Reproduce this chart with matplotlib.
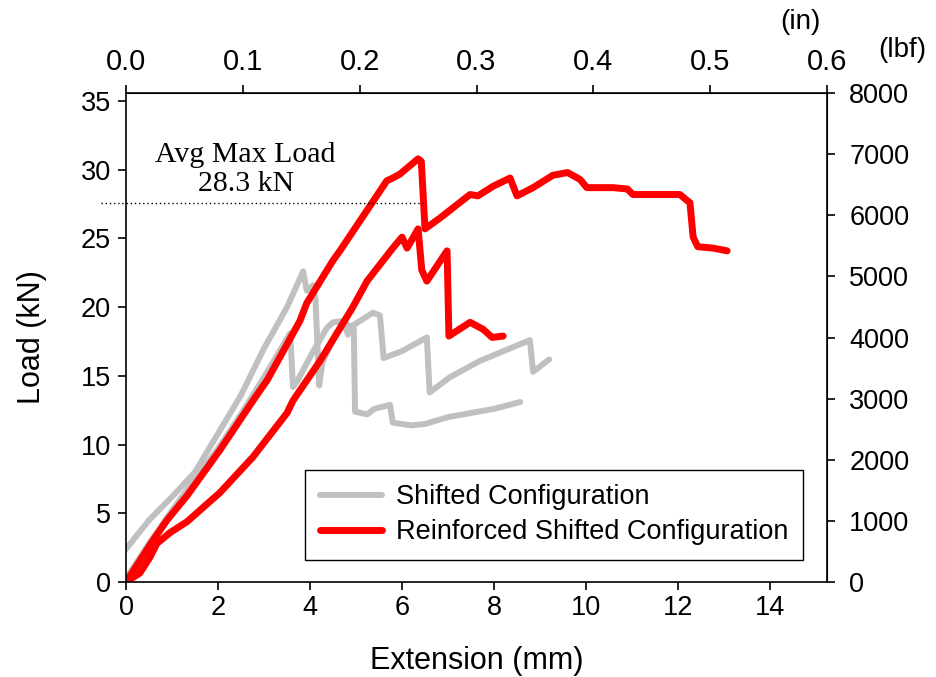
import matplotlib
matplotlib.use("Agg")
import matplotlib.pyplot as plt
import matplotlib.ticker as ticker
import numpy as np

# shifted configuration specimens (extension mm, load kN)
gray_a_x = [0.0, 0.5, 1.0, 1.5, 2.0, 2.5, 3.0, 3.5, 3.85, 3.93, 4.07, 4.12, 4.2, 4.27, 4.57, 4.78, 4.88, 4.95, 4.98,
            5.24, 5.4, 5.74, 5.8, 6.2, 6.5, 7.0, 7.5, 8.0, 8.57]
gray_a_y = [2.4, 4.5, 6.2, 8.0, 10.8, 13.6, 17.0, 20.0, 22.6, 21.2, 21.6, 20.5, 14.3, 16.0, 18.1, 18.8, 18.6, 18.7, 12.4,
            12.2, 12.6, 12.9, 11.6, 11.4, 11.5, 12.0, 12.3, 12.6, 13.1]
gray_b_x = [0.05, 0.5, 1.0, 1.5, 2.0, 2.5, 3.0, 3.57, 3.63, 3.72, 4.07, 4.37, 4.5, 4.75, 4.82, 4.9, 5.37, 5.52, 5.6,
            6.0, 6.54, 6.6, 7.04, 7.7, 8.78, 8.85, 9.2]
gray_b_y = [0.5, 2.8, 5.2, 7.5, 9.7, 12.2, 14.9, 18.1, 14.2, 14.6, 16.8, 18.5, 18.9, 19.0, 18.0, 18.6, 19.6, 19.4, 16.3,
            16.8, 17.8, 13.8, 14.9, 16.1, 17.6, 15.3, 16.2]

# reinforced shifted configuration specimens
red_a_x = [0.0, 0.59, 0.89, 1.33, 2.04, 2.76, 3.07, 3.78, 3.93, 4.5, 4.65, 5.09, 5.67, 5.8, 5.96, 6.35, 6.42, 6.5,
           6.83, 7.48, 7.65, 7.98, 8.35, 8.5, 8.85, 9.28, 9.6, 9.87, 10.02, 10.59, 10.9, 11.02, 11.46, 12.04, 12.26,
           12.33, 12.43, 12.76, 13.07]
red_a_y = [0.0, 3.05, 4.5, 6.3, 9.6, 13.2, 14.7, 19.0, 20.3, 23.4, 24.1, 26.3, 29.2, 29.4, 29.7, 30.8, 30.6, 25.7,
           26.5, 28.2, 28.1, 28.8, 29.4, 28.1, 28.7, 29.6, 29.8, 29.3, 28.7, 28.7, 28.6, 28.2, 28.2, 28.2, 27.6,
           25.1, 24.4, 24.3, 24.1]
red_b_x = [0.0, 0.3, 0.52, 0.67, 0.96, 1.33, 2.04, 2.76, 3.5, 3.63, 4.22, 4.93, 5.24, 5.8, 6.0, 6.11, 6.35, 6.43,
           6.54, 6.98, 7.02, 7.48, 7.76, 7.96, 8.2]
red_b_y = [0.0, 0.65, 1.8, 2.8, 3.6, 4.4, 6.5, 9.1, 12.3, 13.2, 16.1, 20.0, 21.9, 24.3, 25.1, 24.3, 25.7, 22.7,
           21.9, 24.1, 17.9, 18.9, 18.4, 17.8, 17.9]

avg_max_load = 27.6

MM_PER_IN = 25.4
KN_PER_LBF = 0.0044482216

plt.rcParams['font.family'] = ['Liberation Sans', 'DejaVu Sans']
plt.rcParams['font.size'] = 19

fig = plt.figure(figsize=(9.37, 6.77), dpi=100)
ax = fig.add_axes([0.1345, 0.1403, 0.7481, 0.7223])

gray = '#c0c0c0'
red = '#ff0000'
ax.plot(gray_a_x, gray_a_y, color=gray, lw=4.3, solid_joinstyle='round', solid_capstyle='round')
ax.plot(gray_b_x, gray_b_y, color=gray, lw=4.3, solid_joinstyle='round', solid_capstyle='round',
        label='Shifted Configuration')
ax.plot(red_b_x, red_b_y, color=red, lw=5, solid_joinstyle='round', solid_capstyle='round')
ax.plot(red_a_x, red_a_y, color=red, lw=5, solid_joinstyle='round', solid_capstyle='round',
        label='Reinforced Shifted Configuration')

ax.plot([-0.55, 6.45], [avg_max_load, avg_max_load], color='black', lw=1, ls=(0, (1, 2)), clip_on=False)
ax.text(2.6, 30.0, 'Avg Max Load\n28.3 kN', family='Liberation Serif', fontsize=21.5,
        ha='center', va='center', linespacing=1.15)

ax.set_xlim(0, 0.6 * MM_PER_IN)
ax.set_ylim(0, 8000 * KN_PER_LBF)
ax.xaxis.set_major_locator(ticker.MultipleLocator(2))
ax.yaxis.set_major_locator(ticker.MultipleLocator(5))
ax.set_xlabel('Extension (mm)', fontsize=22, labelpad=18)
ax.set_ylabel('Load (kN)', fontsize=22, labelpad=24)
ax.tick_params(direction='out', length=6, width=1.2, labelsize=19.5)
ax.tick_params(axis='y', pad=5)
for s in ax.spines.values():
    s.set_linewidth(1.2)

top = ax.secondary_xaxis('top', functions=(lambda v: v / MM_PER_IN, lambda v: v * MM_PER_IN))
top.set_xticks([0.0, 0.1, 0.2, 0.3, 0.4, 0.5, 0.6])
top.xaxis.set_major_formatter(ticker.FormatStrFormatter('%.1f'))
top.tick_params(direction='out', length=6, width=1.2, labelsize=21, pad=6)
right = ax.secondary_yaxis('right', functions=(lambda v: v / KN_PER_LBF, lambda v: v * KN_PER_LBF))
right.set_yticks(list(range(0, 8001, 1000)))
right.tick_params(direction='out', length=6, width=1.2, labelsize=19.5, pad=10)

fig.text(0.854, 0.967, '(in)', fontsize=20, ha='center', va='center')
fig.text(0.963, 0.926, '(lbf)', fontsize=20, ha='center', va='center')

leg = ax.legend(loc='lower right', bbox_to_anchor=(0.966, 0.045), borderaxespad=0, fontsize=19.5,
                handlelength=2.3, handletextpad=0.5, fancybox=False, edgecolor='black', framealpha=1,
                borderpad=0.55, labelspacing=0.32)
leg.get_frame().set_linewidth(1)

fig.savefig('out.png', dpi=100)
